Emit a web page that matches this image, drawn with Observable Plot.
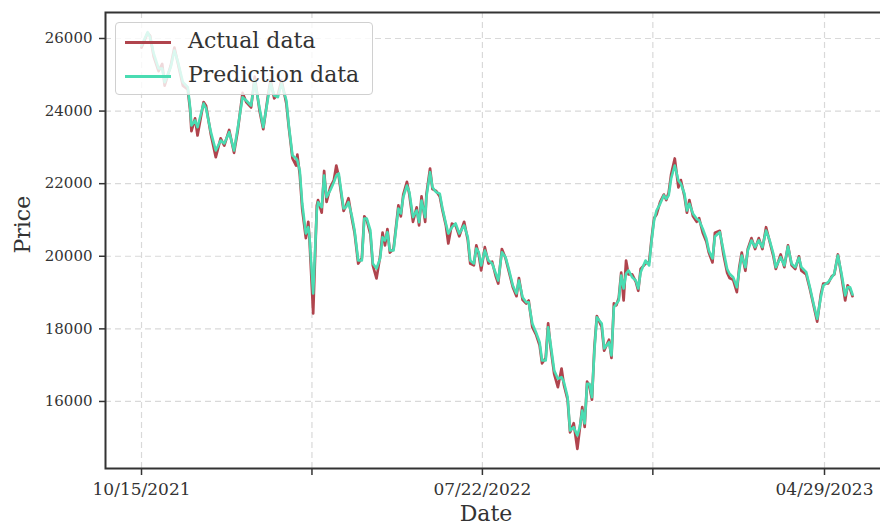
<!DOCTYPE html>
<html><head><meta charset="utf-8">
<script src="https://cdn.jsdelivr.net/npm/d3@7"></script>
<script src="https://cdn.jsdelivr.net/npm/@observablehq/plot@0.6"></script>
<style>
html,body{margin:0;padding:0;background:#fff;overflow:hidden;}
#wrap{position:relative;width:880px;height:525px;overflow:hidden;}
#wrap svg{max-width:none !important;display:block;}
.legend{position:absolute;left:115px;top:22px;width:258px;height:73px;background:rgba(255,255,255,0.8);border:1px solid #d0d0d0;border-radius:4px;box-sizing:border-box;font-family:"DejaVu Serif";font-size:22px;color:#333;}
.sw{position:absolute;left:9px;width:46px;height:2.5px;}
.lbl{position:absolute;left:72px;white-space:nowrap;line-height:1;}
</style></head>
<body><div id="wrap"></div>
<script>
const dates = [
"2021-10-15","2021-10-20","2021-10-22","2021-10-25","2021-10-29","2021-11-01","2021-11-03","2021-11-08","2021-11-11","2021-11-14",
"2021-11-18","2021-11-22","2021-11-24","2021-11-25","2021-11-28","2021-11-30","2021-12-05","2021-12-07","2021-12-11","2021-12-15",
"2021-12-19","2021-12-22","2021-12-26","2021-12-30","2022-01-02","2022-01-06","2022-01-09","2022-01-13","2022-01-16","2022-01-20",
"2022-01-23","2022-01-27","2022-01-29","2022-02-01","2022-02-04","2022-02-07","2022-02-11","2022-02-13","2022-02-16","2022-02-19",
"2022-02-20","2022-02-22","2022-02-24","2022-02-27","2022-03-01","2022-03-02","2022-03-05","2022-03-08","2022-03-09","2022-03-12",
"2022-03-14","2022-03-16","2022-03-19","2022-03-22","2022-03-24","2022-03-26","2022-03-30","2022-04-01","2022-04-03","2022-04-06",
"2022-04-08","2022-04-11","2022-04-14","2022-04-16","2022-04-18","2022-04-21","2022-04-23","2022-04-26","2022-04-29","2022-05-01",
"2022-05-03","2022-05-05","2022-05-07","2022-05-10","2022-05-14","2022-05-16","2022-05-18","2022-05-21","2022-05-23","2022-05-26",
"2022-05-29","2022-05-31","2022-06-02","2022-06-05","2022-06-06","2022-06-09","2022-06-11","2022-06-14","2022-06-17","2022-06-19",
"2022-06-22","2022-06-24","2022-06-27","2022-06-30","2022-07-03","2022-07-07","2022-07-10","2022-07-12","2022-07-15","2022-07-17",
"2022-07-19","2022-07-21","2022-07-24","2022-07-27","2022-07-30","2022-08-02","2022-08-04","2022-08-07","2022-08-10","2022-08-13",
"2022-08-16","2022-08-19","2022-08-21","2022-08-24","2022-08-27","2022-08-29","2022-09-01","2022-09-04","2022-09-07","2022-09-09",
"2022-09-12","2022-09-14","2022-09-16","2022-09-19","2022-09-22","2022-09-25","2022-09-27","2022-09-30","2022-10-02","2022-10-05",
"2022-10-08","2022-10-10","2022-10-12","2022-10-14","2022-10-16","2022-10-18","2022-10-20","2022-10-22","2022-10-24","2022-10-28",
"2022-10-30","2022-11-03","2022-11-05","2022-11-07","2022-11-09","2022-11-11","2022-11-13","2022-11-15","2022-11-17","2022-11-19",
"2022-11-22","2022-11-25","2022-11-27","2022-11-29","2022-12-03","2022-12-06","2022-12-08","2022-12-10","2022-12-12","2022-12-15",
"2022-12-18","2022-12-20","2022-12-22","2022-12-24","2022-12-27","2022-12-30","2023-01-01","2023-01-04","2023-01-06","2023-01-08",
"2023-01-11","2023-01-14","2023-01-16","2023-01-19","2023-01-22","2023-01-24","2023-01-27","2023-01-29","2023-02-02","2023-02-05",
"2023-02-08","2023-02-10","2023-02-13","2023-02-16","2023-02-18","2023-02-20","2023-02-23","2023-02-25","2023-02-28","2023-03-03",
"2023-03-06","2023-03-09","2023-03-12","2023-03-15","2023-03-18","2023-03-20","2023-03-24","2023-03-27","2023-03-30","2023-04-02",
"2023-04-05","2023-04-08","2023-04-10","2023-04-14","2023-04-17","2023-04-20","2023-04-23","2023-04-26","2023-04-28","2023-05-02",
"2023-05-05","2023-05-07","2023-05-10","2023-05-13","2023-05-16","2023-05-18","2023-05-20","2023-05-22"];

const predicted = [
25807,26174,26036,25587,25174,25174,24796,25209,25669,25347,
24796,24658,24072,23603,23741,23556,24209,24072,23419,22914,
23190,23107,23419,22914,23520,24383,24292,24154,24843,24072,
23556,24383,24760,24430,24383,24760,24292,23603,22777,22694,
22639,22363,21454,20628,20801,20526,18975,21261,21490,21352,
22226,21628,21812,22041,22226,22281,21316,21352,21490,21077,
20710,19884,19884,21041,21041,20710,19801,19663,19939,20526,
20435,20664,20159,20159,21316,21179,21628,21950,21766,21077,
21261,20939,21537,21077,21628,22317,21903,21766,21722,21352,
20903,20628,20801,20903,20628,20848,20526,19884,19801,20214,
20112,19746,20159,19884,19801,19526,19333,20112,19975,19609,
19195,18975,19333,18873,18735,18735,18148,17909,17633,17129,
17129,18046,17589,16853,16625,16669,16531,16118,15200,15291,
15063,15291,15751,15393,16487,16487,16118,17404,18322,18148,
17460,17633,17267,18598,18691,18782,19471,19113,19526,19609,
19424,19333,19113,19562,19884,19746,20435,20986,21261,21446,
21675,21584,21675,22135,22501,22088,21997,21722,21261,21446,
21170,21033,20986,20757,20482,20159,19939,20545,20664,20159,
19655,19518,19424,19148,19609,20022,19699,20159,20435,20250,
20435,20250,20710,20435,20069,19699,19975,19746,20270,19793,
19699,19958,19699,19562,19148,18691,18278,18873,19195,19286,
19424,19518,20022,19518,18920,19148,19148,18947];

const actual = [
25750,26150,26080,25500,25100,25300,24700,25250,25750,25300,
24700,24600,24000,23450,23800,23328,24250,24150,23350,22730,
23250,23050,23480,22850,23450,24500,24250,24100,24950,24000,
23500,24450,24850,24350,24450,24850,24200,23550,22700,22500,
22800,22250,21300,20500,20950,20450,18424,21400,21550,21200,
22350,21500,21900,22100,22501,22200,21250,21400,21600,21000,
20650,19800,19950,21100,21000,20600,19750,19388,20000,20650,
20300,20750,20100,20200,21400,21100,21700,22050,21700,20950,
21350,20850,21650,20950,21700,22418,21850,21800,21650,21300,
20850,20352,20900,20850,20550,20950,20450,19800,19750,20300,
20050,19609,20250,19800,19850,19450,19250,20200,19950,19550,
19150,18900,19400,18800,18700,18780,18050,17850,17550,17050,
17200,18150,17500,16750,16393,16908,16450,16050,15150,15400,
14696,15250,15843,15300,16550,16400,16050,17500,18350,18050,
17400,17700,17200,18700,18650,18850,19550,18782,19884,19500,
19500,19300,19050,19650,19800,19850,20500,21050,21150,21500,
21700,21550,21750,22250,22694,21900,22100,21650,21200,21550,
21100,20950,21050,20650,20400,20100,19829,20650,20700,20050,
19550,19400,19350,19011,19700,20100,19600,20200,20500,20200,
20500,20200,20800,20400,20000,19650,20050,19700,20300,19750,
19650,20000,19600,19500,19100,18650,18200,18950,19250,19250,
19450,19500,20050,19450,18782,19200,19100,18900];

const yTicks = [16000, 18000, 20000, 22000, 24000, 26000];
const xTicks = ["2021-10-15", "2022-03-04", "2022-07-22", "2022-12-09", "2023-04-29"];
const xTickLabels = ["10/15/2021", "", "07/22/2022", "", "04/29/2023"];
const seriesNames = ["Actual data", "Prediction data"];
const seriesColors = ["#b0444d", "#4adcb2"];

const rows = dates.map((d, i) => ({date: new Date(d), actual: actual[i], predicted: predicted[i]}));
const xTickDates = xTicks.map(d => new Date(d));
const labelMap = new Map(xTickDates.map((d, i) => [+d, xTickLabels[i]]));

const chart = Plot.plot({
  width: 900,
  height: 525,
  marginLeft: 105,
  marginRight: 10,
  marginTop: 12,
  marginBottom: 57,
  style: {fontFamily: "DejaVu Serif", color: "#333", background: "white", overflow: "visible", maxWidth: "none"},
  x: {type: "utc", domain: [new Date("2021-09-15T10:00Z"), new Date("2023-06-22T05:00Z")]},
  y: {domain: [14153, 26716]},
  marks: [
    Plot.gridX(xTickDates, {stroke: "#d9d9d9", strokeOpacity: 1, strokeWidth: 1.2, strokeDasharray: "6,4"}),
    Plot.gridY(yTicks, {stroke: "#d9d9d9", strokeOpacity: 1, strokeWidth: 1.2, strokeDasharray: "6,4"}),
    Plot.lineY(rows, {x: "date", y: "actual", stroke: seriesColors[0], strokeWidth: 2.7}),
    Plot.lineY(rows, {x: "date", y: "predicted", stroke: seriesColors[1], strokeWidth: 2.6}),
    Plot.frame({stroke: "#333", strokeWidth: 2}),
    Plot.axisY(yTicks, {tickSize: 6, tickPadding: 7, fontSize: 15, strokeWidth: 1.5, tickFormat: d => String(d), label: null}),
    Plot.axisX(xTickDates, {tickSize: 7, tickPadding: 7, fontSize: 17, strokeWidth: 1.5, tickFormat: d => labelMap.get(+d), label: null}),
    Plot.text(["Date"], {frameAnchor: "bottom", dx: -12, dy: 47, lineAnchor: "top", fontSize: 22, text: d => d, dy: 37}),
    Plot.text(["Price"], {frameAnchor: "left", dx: -83, dy: 13, rotate: -90, fontSize: 22, text: d => d})
  ]
});
chart.style.maxWidth = "none";

const wrap = document.getElementById("wrap");
wrap.appendChild(chart);
const leg = document.createElement("div");
leg.className = "legend";
seriesNames.forEach((name, i) => {
  const top = i === 0 ? 18 : 52;
  const sw = document.createElement("div");
  sw.className = "sw";
  sw.style.top = top + "px";
  sw.style.background = seriesColors[i];
  leg.appendChild(sw);
  const lb = document.createElement("div");
  lb.className = "lbl";
  lb.style.top = (top - 11) + "px";
  lb.textContent = name;
  leg.appendChild(lb);
});
wrap.appendChild(leg);
</script>
</body></html>
